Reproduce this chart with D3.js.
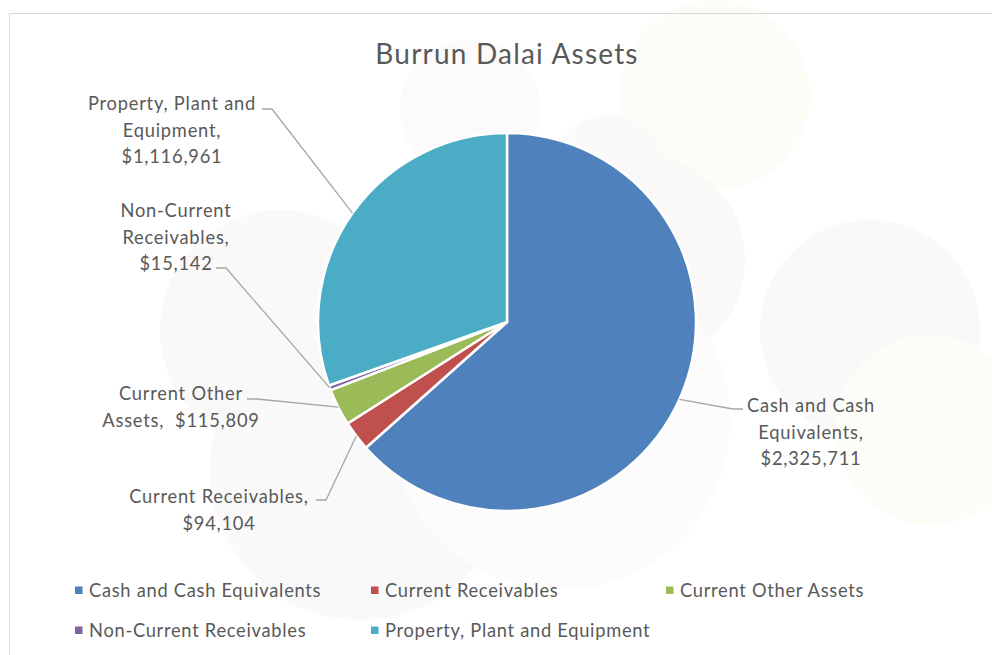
<!DOCTYPE html>
<html><head><meta charset="utf-8">
<script src="https://cdn.jsdelivr.net/npm/d3@7/dist/d3.min.js"></script>
<style>html,body{margin:0;padding:0;background:#fff;}svg{display:block;font-family:Lato,"Open Sans",sans-serif;}text{white-space:pre;}</style>
</head><body>
<svg id="c" width="992" height="655"></svg>
<script>
const categories = ["Cash and Cash Equivalents","Current Receivables","Current Other Assets","Non-Current Receivables","Property, Plant and Equipment"];
const values = [2325711, 94104, 115809, 15142, 1116961];
const labelLines = [
  ["Cash and Cash","Equivalents,","$2,325,711"],
  ["Current Receivables,","$94,104"],
  ["Current Other","Assets,  $115,809"],
  ["Non-Current","Receivables,","$15,142"],
  ["Property, Plant and","Equipment,","$1,116,961"]
];
const colors = ["#4f81bd","#c0504d","#9bbb59","#8064a2","#4bacc6"];

// layout (label placement: text centre x, first line y, leader elbow)
const layout = [
  {tx:811, ty:405, hx:743, ex:733, ey:409},
  {tx:219, ty:496, hx:316, ex:326, ey:500},
  {tx:181, ty:393, hx:247, ex:257, ey:399},
  {tx:176, ty:210, hx:216, ex:226, ey:268},
  {tx:172, ty:103, hx:262, ex:272, ey:109}
];

const svg = d3.select("#c");
// faint watermark
const wm = svg.append("g").attr("opacity",0.4);
[[715,95,95,"#fbfbee"],[610,175,60,"#f9f5ee"],[640,260,105,"#f7eeee"],[870,330,110,"#f2f2f2"],[930,430,95,"#fbfbee"],[280,330,120,"#f7efef"],[360,470,150,"#f5f1f1"],[560,420,170,"#fbf6f6"],[470,110,70,"#f9f3f3"]].forEach(d=>{
  wm.append("circle").attr("cx",d[0]).attr("cy",d[1]).attr("r",d[2]).attr("fill",d[3]);
});
// border
svg.append("path").attr("d","M9.5,655 V13.5 H992").attr("fill","none").attr("stroke","#d9d9d9").attr("stroke-width",1);

svg.append("text").attr("x",507).attr("y",53).attr("text-anchor","middle").attr("dominant-baseline","central")
  .attr("font-size",28).attr("letter-spacing",1.2).attr("fill","#595959").text("Burrun Dalai Assets");

const cx=507, cy=322, R=189;
const pie = d3.pie().sort(null).value(d=>d)(values);
const arc = d3.arc().innerRadius(0).outerRadius(R);
const g = svg.append("g").attr("transform",`translate(${cx},${cy})`);
g.selectAll("path").data(pie).join("path").attr("d",arc).attr("fill",(d,i)=>colors[i])
  .attr("stroke","#fff").attr("stroke-width",2.5).attr("stroke-linejoin","round");

// leaders & labels
pie.forEach((d,i)=>{
  const a=(d.startAngle+d.endAngle)/2;
  const px=cx+R*Math.sin(a), py=cy-R*Math.cos(a);
  const L=layout[i];
  svg.append("polyline").attr("points",`${px},${py} ${L.ex},${L.ey} ${L.hx},${L.ey}`)
    .attr("fill","none").attr("stroke","#a6a6a6").attr("stroke-width",1.3);
  const t=svg.append("text").attr("text-anchor","middle").attr("font-size",18.3).attr("letter-spacing",0.78).attr("fill","#595959");
  labelLines[i].forEach((s,j)=>{
    t.append("tspan").attr("x",L.tx).attr("y",L.ty+j*26.7).attr("dominant-baseline","central").text(s);
  });
});

// legend
const legPos=[[75,590],[371,590],[666,590],[75,630],[371,630]];
categories.forEach((c,i)=>{
  const [x,y]=legPos[i];
  svg.append("rect").attr("x",x).attr("y",y-3.5).attr("width",7.5).attr("height",7.5).attr("fill",colors[i]);
  svg.append("text").attr("x",x+14).attr("y",y).attr("dominant-baseline","central").attr("font-size",18.3).attr("letter-spacing",0.72).attr("fill","#595959").text(c);
});
</script>
</body></html>
